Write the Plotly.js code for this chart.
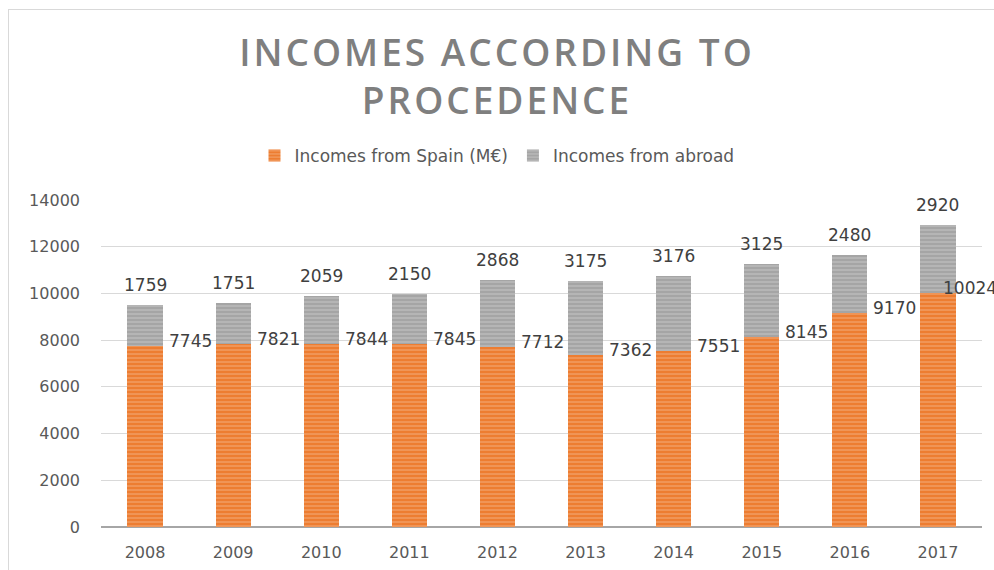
<!DOCTYPE html>
<html>
<head>
<meta charset="utf-8">
<script src="https://cdn.plot.ly/plotly-3.0.1.min.js"></script>
<style>
  html, body { margin: 0; padding: 0; background: #fff; }
  #wrap { position: relative; width: 994px; height: 570px; overflow: hidden; }
  #chart { position: absolute; left: 0; top: 0; width: 994px; height: 570px; }
  #frame { position: absolute; left: 8px; top: 9px; width: 1000px; height: 600px;
           border-left: 1px solid #d9d9d9; border-top: 1px solid #d9d9d9; pointer-events: none; }
  .gtitle { letter-spacing: 3px; }
</style>
</head>
<body>
<div id="wrap">
  <div id="chart"></div>
  <div id="frame"></div>
</div>
<script>
const years = ["2008", "2009", "2010", "2011", "2012", "2013", "2014", "2015", "2016", "2017"];
const spain = [7745, 7821, 7844, 7845, 7712, 7362, 7551, 8145, 9170, 10024];
const abroad = [1759, 1751, 2059, 2150, 2868, 3175, 3176, 3125, 2480, 2920];
const yTicks = [0, 2000, 4000, 6000, 8000, 10000, 12000, 14000];

const numFamily = "DejaVu Sans, Verdana, sans-serif";
const labelFont = { family: numFamily, size: 17, color: "#404040" };
const axisFont = { family: numFamily, size: 16, color: "#595959" };

const traces = [
  {
    type: "bar", name: "Incomes from Spain (M€)", x: years, y: spain,
    marker: { color: "#ED7D31", pattern: { shape: "-", size: 4, solidity: 0.3, fgcolor: "#F8CBAD", fillmode: "overlay" } },
    hoverinfo: "skip"
  },
  {
    type: "bar", name: "Incomes from abroad", x: years, y: abroad,
    marker: { color: "#A5A5A5", pattern: { shape: "-", size: 4, solidity: 0.3, fgcolor: "#DADADA", fillmode: "overlay" } },
    hoverinfo: "skip"
  }
];

const annotations = [];
years.forEach((yr, i) => {
  const last = i === years.length - 1;
  annotations.push({
    x: i, y: spain[i], xref: "x", yref: "y", text: String(spain[i]),
    showarrow: false, xanchor: "center", yanchor: "middle",
    xshift: last ? 32 : 45, yshift: 5, font: labelFont
  });
  annotations.push({
    x: i, y: spain[i] + abroad[i], xref: "x", yref: "y", text: String(abroad[i]),
    showarrow: false, xanchor: "center", yanchor: "middle",
    yshift: 20, font: labelFont
  });
});

const layout = {
  width: 994, height: 570,
  paper_bgcolor: "rgba(0,0,0,0)", plot_bgcolor: "rgba(0,0,0,0)",
  margin: { l: 101, r: 12, t: 200, b: 43, pad: 0 },
  barmode: "stack", bargap: 0.6,
  title: {
    text: "INCOMES ACCORDING TO<br>PROCEDENCE",
    font: { family: "Open Sans, Liberation Sans, sans-serif", size: 37, color: "#7F7F7F", weight: 600 },
    x: 0.5, xanchor: "center", xref: "container", y: 1 - 66 / 570, yanchor: "middle", yref: "container"
  },
  showlegend: true,
  legend: {
    orientation: "h", x: 0.5, xanchor: "center", xref: "container", y: 1 - 156 / 570, yanchor: "middle", yref: "container",
    font: { family: numFamily, size: 17, color: "#595959" },
    itemwidth: 30, tracegroupgap: 0, traceorder: "normal"
  },
  xaxis: {
    type: "category", range: [-0.5, years.length - 0.5], tickfont: axisFont, showgrid: false, zeroline: false,
    showline: false, ticks: "", ticklabelstandoff: 14
  },
  yaxis: {
    range: [0, 14000], tickvals: yTicks, ticktext: yTicks.map(String),
    tickfont: axisFont, showgrid: true, gridcolor: "#D9D9D9", gridwidth: 1,
    zeroline: true, zerolinecolor: "#A6A6A6", zerolinewidth: 1.5,
    showline: false, ticks: "", ticklabelstandoff: 20
  },
  annotations: annotations
};

Plotly.newPlot("chart", traces, layout, { displayModeBar: false, staticPlot: true });
</script>
</body>
</html>
